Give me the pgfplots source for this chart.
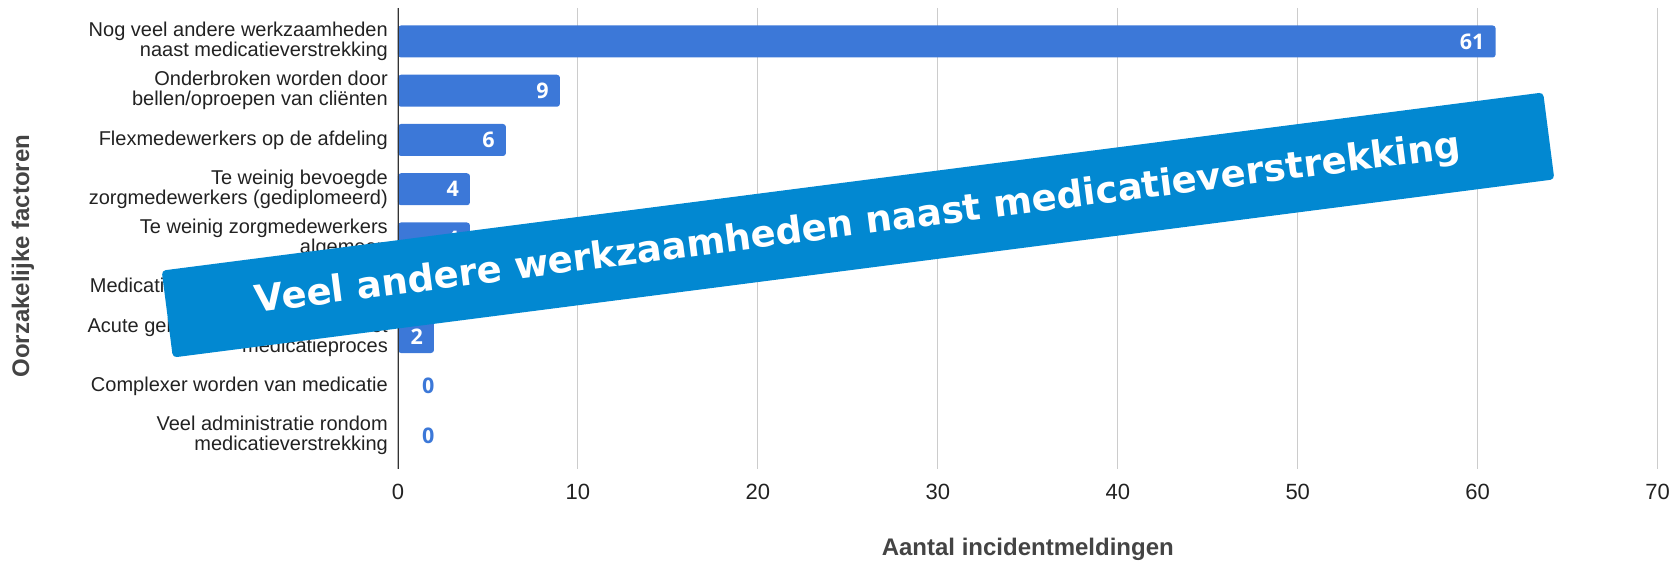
\documentclass[border=0pt]{standalone}
\usepackage{fontspec}
\setmainfont{Liberation Sans}
\newfontfamily\dvb{DejaVu Sans}
\newfontfamily\osf{Open Sans}
\usepackage{pgfplots}
\pgfplotsset{compat=1.18}
\definecolor{barblue}{HTML}{3C78D8}
\definecolor{banner}{HTML}{0288D1}
\definecolor{txt}{HTML}{222222}
\definecolor{ttl}{HTML}{444444}
\definecolor{gridc}{HTML}{CCCCCC}
\definecolor{axc}{HTML}{333333}
\begin{document}
\begin{tikzpicture}
\begin{axis}[
  at={(398pt,92pt)}, anchor=south west,
  scale only axis, width=1259.7pt, height=461pt,
  xmin=0, xmax=70, ymin=-0.68, ymax=8.68, y dir=reverse,
  xtick={0,10,...,70}, ytick={0,...,8},
  yticklabels={
    {Nog veel andere werkzaamheden\\naast medicatieverstrekking},
    {Onderbroken worden door\\bellen/oproepen van cliënten},
    {Flexmedewerkers op de afdeling},
    {Te weinig bevoegde\\zorgmedewerkers (gediplomeerd)},
    {Te weinig zorgmedewerkers\\algemeen},
    {Medicatie niet tijdig geleverd door},
    {Acute gebeurtenissen rondom het\\medicatieproces},
    {Complexer worden van medicatie},
    {Veel administratie rondom\\medicatieverstrekking}},
  major tick length=0pt,
  axis line style={draw=none},
  xmajorgrids, grid style={gridc, line width=1.1pt},
  /pgf/number format/assume math mode=true,
  xticklabel style={font=\fontsize{22}{22}\selectfont, text=txt, inner sep=0pt, anchor=north, yshift=-15pt},
  yticklabel style={font=\fontsize{20}{20}\selectfont, text=txt, align=right, inner sep=0pt, anchor=east, xshift=-10pt},
  xlabel={Aantal incidentmeldingen},
  ylabel={Oorzakelijke factoren},
  xlabel style={at={(axis description cs:0.5,-0.1735)}, anchor=center, font=\bfseries\fontsize{24}{24}\selectfont, text=ttl},
  ylabel style={at={(axis description cs:-0.2977,0.462)}, anchor=center, font=\bfseries\fontsize{24}{24}\selectfont, text=ttl},
]
\addplot[xbar, bar width=32pt, bar shift=0pt, fill=barblue, draw=none, rounded corners=3pt,
  point meta=x, nodes near coords,
  nodes near coords style={anchor=east, inner sep=0pt, xshift=-11pt, text=white, font=\osf\bfseries\fontsize{21.5}{21.5}\selectfont}]
  coordinates {(61,0) (9,1) (6,2) (4,3) (4,4) (3,5) (2,6)};
\addplot[xbar, bar width=32pt, bar shift=0pt, fill=none, draw=none,
  point meta=x, nodes near coords,
  nodes near coords style={anchor=west, inner sep=0pt, xshift=24pt, text=barblue, font=\osf\bfseries\fontsize{21.5}{21.5}\selectfont}]
  coordinates {(0,7) (0,8)};
\draw[axc, line width=1.4pt] (axis cs:0,-0.68) -- (axis cs:0,8.68);
\end{axis}
\node[rotate=7.35, fill=banner, rounded corners=4pt, minimum width=1393pt, minimum height=87.6pt, inner sep=0pt, text=white, font=\dvb\bfseries\fontsize{37}{37}\selectfont] at (858pt,336pt) {Veel andere werkzaamheden naast medicatieverstrekking};
\pgfresetboundingbox
\path[use as bounding box] (0,0) rectangle (1673pt,561pt);
\end{tikzpicture}
\end{document}
